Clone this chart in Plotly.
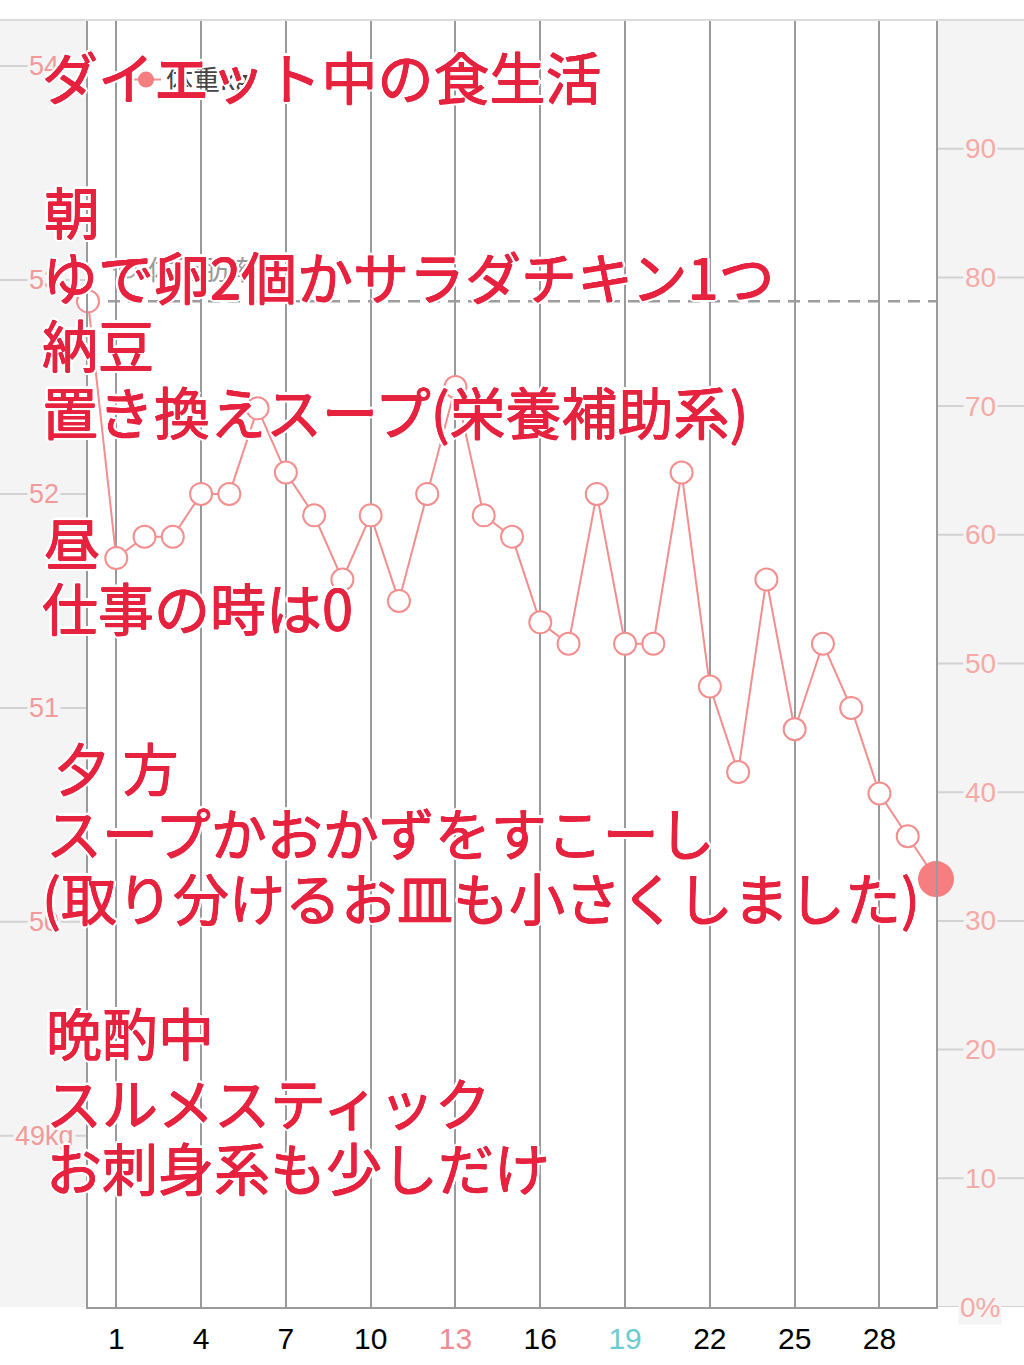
import plotly.graph_objects as go

# ---------------- data ----------------
days = list(range(0, 31))
weights = [52.9, 51.7, 51.8, 51.8, 52.0, 52.0, 52.4, 52.1, 51.9, 51.6,
           51.9, 51.5, 52.0, 52.5, 51.9, 51.8, 51.4, 51.3, 52.0, 51.3,
           51.3, 52.1, 51.1, 50.7, 51.6, 50.9, 51.3, 51.0, 50.6, 50.4, 50.2]
reference_weight = 52.9
x_ticks = [1, 4, 7, 10, 13, 16, 19, 22, 25, 28]
x_tick_colors = {13: "#f08a92", 19: "#6ccbd2"}
kg_ticks = [49, 50, 51, 52, 53, 54]
pct_ticks = [0, 10, 20, 30, 40, 50, 60, 70, 80, 90]
legend_names = ["体重kg", "体脂肪率"]

overlay_lines = [
    ("ダイエット中の食生活", 40, 75),
    ("朝", 42, 210),
    ("ゆで卵2個かサラダチキン1つ", 40, 275),
    ("納豆", 40, 342),
    ("置き換えスープ(栄養補助系)", 40, 410),
    ("昼", 42, 540),
    ("仕事の時は0", 40, 605),
    ("夕 方", 52, 765),
    ("スープかおかずをすこーし", 44, 830),
    ("(取り分けるお皿も小さくしました)", 40, 895),
    ("晩酌中", 44, 1030),
    ("スルメスティック", 44, 1100),
    ("お刺身系も少しだけ", 44, 1165),
]

# ---------------- layout geometry ----------------
W, H = 1024, 1365
ML, MR, MT, MB = 88, 88, 20, 58
PW, PH = W - ML - MR, H - MT - MB


def px2x(px):
    return (px - ML) / PW


def px2y(py):
    return (H - MB - py) / PH


PINK = "#f48e8e"
BAND = "#f4f4f4"
RED = "#e6223f"

fig = go.Figure()

fig.add_trace(go.Scatter(
    x=days, y=weights, mode="lines+markers",
    line=dict(color=PINK, width=2),
    marker=dict(size=22, color="white", line=dict(color=PINK, width=2)),
    showlegend=False, cliponaxis=False,
))
fig.add_trace(go.Scatter(
    x=[days[-1]], y=[weights[-1]], mode="markers",
    marker=dict(size=36, color="#f57f80"),
    showlegend=False, cliponaxis=False,
))
# legend entries
fig.add_trace(go.Scatter(
    x=[None], y=[None], mode="lines+markers", name=legend_names[0],
    line=dict(color=PINK, width=2), marker=dict(size=18, color="#f57f80"),
    legend="legend",
))
fig.add_trace(go.Scatter(
    x=[None], y=[None], mode="lines+markers", name=legend_names[1],
    line=dict(color="#aaaaaa", width=2, dash="dot"),
    marker=dict(size=16, color="white", line=dict(color="#aaaaaa", width=2)),
    legend="legend2", yaxis="y2",
))

shapes = []
# side bands
shapes.append(dict(type="rect", xref="paper", yref="paper", x0=px2x(0), x1=0,
                   y0=0, y1=1, fillcolor=BAND, line=dict(width=0), layer="below"))
shapes.append(dict(type="rect", xref="paper", yref="paper", x0=1, x1=px2x(W),
                   y0=0, y1=1, fillcolor=BAND, line=dict(width=0), layer="below"))
# top line
shapes.append(dict(type="line", xref="paper", yref="paper", x0=px2x(0), x1=px2x(W),
                   y0=1, y1=1, line=dict(color="#dcdcdc", width=2)))
# left tick lines
for v in kg_ticks:
    shapes.append(dict(type="line", xref="paper", yref="y", x0=px2x(0), x1=0,
                       y0=v, y1=v, line=dict(color="#d2d2d2", width=2), layer="below"))
for v in pct_ticks:
    shapes.append(dict(type="line", xref="paper", yref="y2", x0=1, x1=px2x(W),
                       y0=v, y1=v, line=dict(color="#d2d2d2", width=2), layer="below"))
# dashed reference line
shapes.append(dict(type="line", xref="paper", yref="y", x0=0, x1=1,
                   y0=reference_weight, y1=reference_weight,
                   line=dict(color="#9c9c9c", width=2.5, dash="12px,8px"), layer="below"))

annotations = []
for v in kg_ticks:
    annotations.append(dict(
        xref="paper", yref="y", x=px2x(44), y=v, xanchor="center", yanchor="middle",
        text=("%dkg" % v) if v == kg_ticks[0] else str(v), showarrow=False,
        bgcolor=BAND, borderpad=1,
        font=dict(family="Liberation Sans", size=27, color="#f19a9a"),
    ))
for v in pct_ticks:
    annotations.append(dict(
        xref="paper", yref="y2", x=px2x(980), y=v, xanchor="center", yanchor="middle",
        text=("%d%%" % v) if v == 0 else str(v), showarrow=False,
        bgcolor=BAND, borderpad=1,
        font=dict(family="Liberation Sans", size=28, color="#f4aaa6"),
    ))

thicken = ["%.1fpx %.1fpx 0 %s" % (dx, dy, RED) for dx, dy in
           [(0.5, 0), (-0.5, 0), (0, 0.5), (0, -0.5)]]
white = ["%dpx %dpx 0 #fff" % (dx, dy) for dx, dy in
         [(3, 0), (-3, 0), (0, 3), (0, -3), (2, 2), (-2, -2), (2, -2), (-2, 2)]]
outline = ", ".join(thicken + white)
for text, px, py in overlay_lines:
    annotations.append(dict(
        xref="paper", yref="paper", x=px2x(px), y=px2y(py),
        xanchor="left", yanchor="middle", text=text, showarrow=False,
        font=dict(family="Noto Sans CJK JP", size=56, color=RED, weight=400,
                  shadow=outline),
    ))

ticktext = []
for t in x_ticks:
    if t in x_tick_colors:
        ticktext.append('<span style="color:%s">%d</span>' % (x_tick_colors[t], t))
    else:
        ticktext.append(str(t))

fig.update_layout(
    width=W, height=H,
    margin=dict(l=ML, r=MR, t=MT, b=MB, pad=0, autoexpand=False),
    paper_bgcolor="white", plot_bgcolor="white",
    shapes=shapes, annotations=annotations,
    xaxis=dict(range=[0, 30], tickvals=x_ticks, ticktext=ticktext,
               showgrid=True, gridcolor="#9a9a9a", gridwidth=1.5,
               showline=True, linecolor="#9a9a9a", linewidth=1.5,
               zeroline=False, ticks="", ticklabelstandoff=4, automargin=False,
               tickfont=dict(family="Liberation Sans", size=30, color="black"),
               fixedrange=True),
    yaxis=dict(range=[48.2, 54.215], showticklabels=False, showgrid=False,
               zeroline=False, showline=True, linecolor="#9a9a9a", linewidth=1.5,
               ticks="", automargin=False),
    yaxis2=dict(range=[0, 100], overlaying="y", side="right", showticklabels=False,
                showgrid=False, zeroline=False, showline=True, linecolor="#9a9a9a",
                linewidth=1.5, ticks="", automargin=False),
    legend=dict(x=px2x(126), y=px2y(80), xanchor="left", yanchor="middle",
                bgcolor="rgba(0,0,0,0)", itemwidth=30,
                font=dict(family="Noto Sans CJK JP", size=27, color="#444444")),
    legend2=dict(x=px2x(108), y=px2y(270), xanchor="left", yanchor="middle",
                 bgcolor="rgba(0,0,0,0)", itemwidth=30,
                 font=dict(family="Noto Sans CJK JP", size=27, color="#999999")),
    showlegend=True,
)

fig.write_html("out.html", config={"displayModeBar": False},
               post_script="document.body.style.margin='0';")
